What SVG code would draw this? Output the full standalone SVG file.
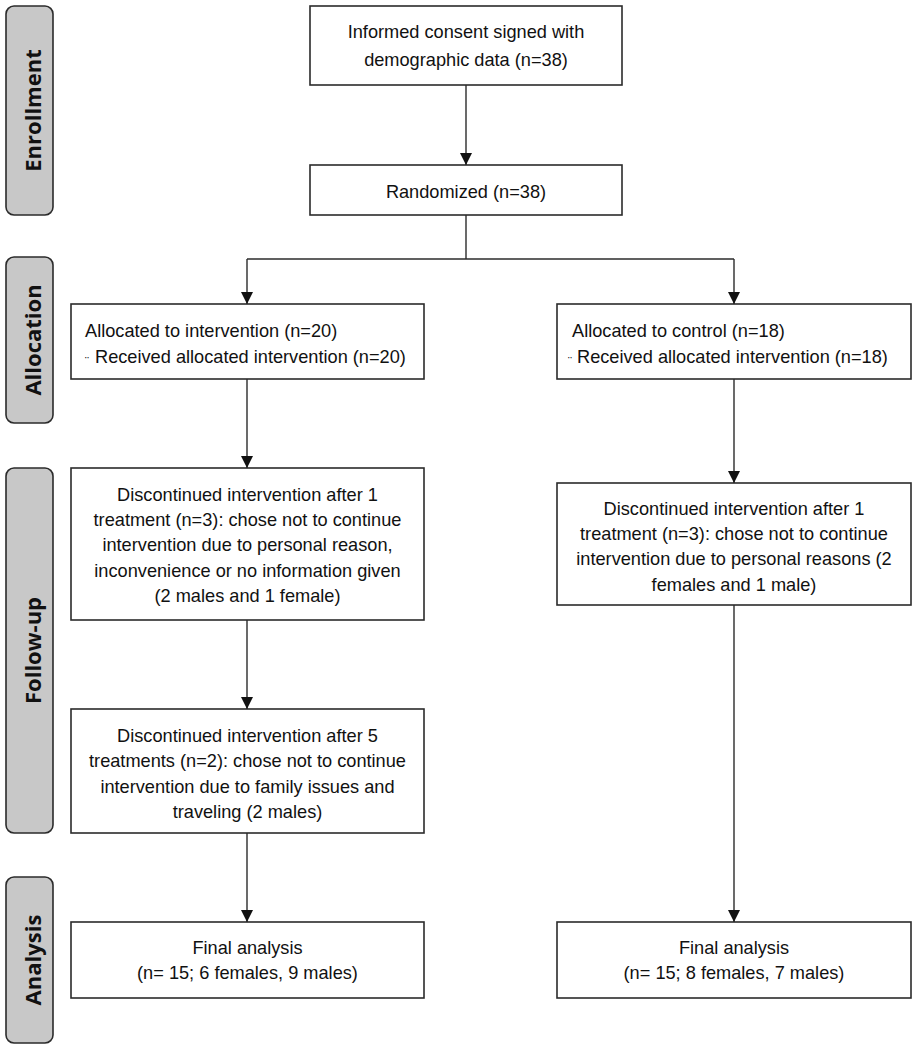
<svg xmlns="http://www.w3.org/2000/svg" width="916" height="1049" viewBox="0 0 916 1049">
<defs>
<style>
.box{fill:#fff;stroke:#2b2b2b;stroke-width:1.6}
.stage{fill:#c8c8c8;stroke:#2b2b2b;stroke-width:1.6}
.t{font-family:"Liberation Sans",Arial,sans-serif;font-size:18.2px;fill:#111}
.c{text-anchor:middle}
.lab{font-family:"Open Sans","DejaVu Sans",sans-serif;font-weight:bold;font-size:22px;fill:#111;text-anchor:middle}
.dd{font-size:12px}
.con{fill:none;stroke:#2b2b2b;stroke-width:1.4}
</style>
<marker id="ah" markerWidth="12" markerHeight="12" viewBox="0 0 12 12" refX="12" refY="6" orient="auto" markerUnits="userSpaceOnUse">
<path d="M0,0 L12,6 L0,12 Z" fill="#111"/>
</marker>
</defs>
<rect width="916" height="1049" fill="#fff"/>

<g id="stage-enrollment">
<rect class="stage" x="6" y="6" width="47" height="209" rx="8"/>
<text class="lab" transform="translate(41,110.5) rotate(-90)">Enrollment</text>
</g>
<g id="stage-allocation">
<rect class="stage" x="6" y="257" width="47" height="166" rx="8"/>
<text class="lab" transform="translate(41,340) rotate(-90)">Allocation</text>
</g>
<g id="stage-followup">
<rect class="stage" x="6" y="468" width="47" height="365" rx="8"/>
<text class="lab" transform="translate(41,650.5) rotate(-90)">Follow-up</text>
</g>
<g id="stage-analysis">
<rect class="stage" x="6" y="877" width="47" height="166" rx="8"/>
<text class="lab" transform="translate(41,960) rotate(-90)">Analysis</text>
</g>

<g id="consent">
<rect class="box" x="310" y="6" width="312" height="79"/>
<text class="t c" x="466" y="38">Informed consent signed with</text>
<text class="t c" x="466" y="66">demographic data (n=38)</text>
</g>
<g id="randomized">
<rect class="box" x="310" y="165" width="312" height="50"/>
<text class="t c" x="466" y="198">Randomized (n=38)</text>
</g>
<g id="alloc-intervention">
<rect class="box" x="71" y="304" width="353" height="75"/>
<text class="t" x="85" y="337">Allocated to intervention (n=20)</text>
<text class="t" x="85" y="366"><tspan class="dd">¨</tspan><tspan x="95" dy="-3">Received allocated intervention (n=20)</tspan></text>
</g>
<g id="alloc-control">
<rect class="box" x="557" y="304" width="354" height="75"/>
<text class="t" x="572" y="337">Allocated to control (n=18)</text>
<text class="t" x="568" y="366"><tspan class="dd">¨</tspan><tspan x="577" dy="-3">Received allocated intervention (n=18)</tspan></text>
</g>
<g id="followup-int-1">
<rect class="box" x="71" y="468" width="353" height="152"/>
<text class="t c" x="247.5" y="501">Discontinued intervention after 1</text>
<text class="t c" x="247.5" y="526">treatment (n=3): chose not to continue</text>
<text class="t c" x="247.5" y="551">intervention due to personal reason,</text>
<text class="t c" x="247.5" y="577">inconvenience or no information given</text>
<text class="t c" x="247.5" y="602">(2 males and 1 female)</text>
</g>
<g id="followup-ctl">
<rect class="box" x="557" y="483" width="354" height="122"/>
<text class="t c" x="734" y="515">Discontinued intervention after 1</text>
<text class="t c" x="734" y="540">treatment (n=3): chose not to continue</text>
<text class="t c" x="734" y="565">intervention due to personal reasons (2</text>
<text class="t c" x="734" y="591">females and 1 male)</text>
</g>
<g id="followup-int-2">
<rect class="box" x="71" y="709" width="353" height="124"/>
<text class="t c" x="247.5" y="742">Discontinued intervention after 5</text>
<text class="t c" x="247.5" y="767">treatments (n=2): chose not to continue</text>
<text class="t c" x="247.5" y="793">intervention due to family issues and</text>
<text class="t c" x="247.5" y="818">traveling (2 males)</text>
</g>
<g id="analysis-int">
<rect class="box" x="71" y="922" width="353" height="76"/>
<text class="t c" x="247.5" y="954">Final analysis</text>
<text class="t c" x="247.5" y="979">(n= 15; 6 females, 9 males)</text>
</g>
<g id="analysis-ctl">
<rect class="box" x="557" y="922" width="354" height="76"/>
<text class="t c" x="734" y="954">Final analysis</text>
<text class="t c" x="734" y="979">(n= 15; 8 females, 7 males)</text>
</g>

<g id="connectors">
<path class="con" d="M466,85 V165" marker-end="url(#ah)"/>
<path class="con" d="M466,215 V259"/>
<path class="con" d="M247,259 H734"/>
<path class="con" d="M247,259 V304" marker-end="url(#ah)"/>
<path class="con" d="M734,259 V304" marker-end="url(#ah)"/>
<path class="con" d="M247,379 V468" marker-end="url(#ah)"/>
<path class="con" d="M734,379 V483" marker-end="url(#ah)"/>
<path class="con" d="M247,620 V709" marker-end="url(#ah)"/>
<path class="con" d="M247,833 V922" marker-end="url(#ah)"/>
<path class="con" d="M734,605 V922" marker-end="url(#ah)"/>
</g>
</svg>
